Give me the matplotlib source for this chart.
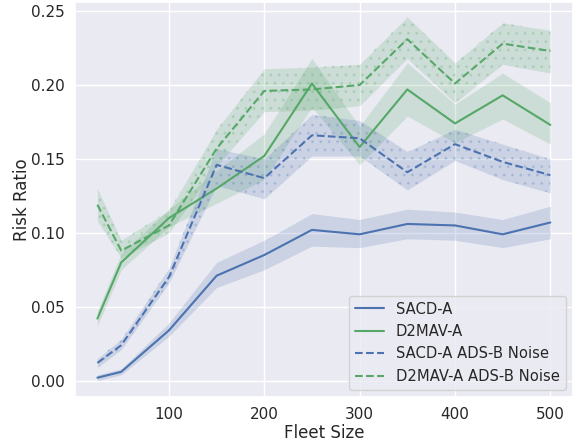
import numpy as np
import matplotlib
matplotlib.use('Agg')
import matplotlib.pyplot as plt
import seaborn as sns

fleet = [25, 50, 100, 150, 200, 250, 300, 350, 400, 450, 500]

sacd = [0.002, 0.006, 0.034, 0.071, 0.085, 0.102, 0.099, 0.106, 0.105, 0.099, 0.107]
sacd_lo = [0.000, 0.004, 0.030, 0.063, 0.075, 0.091, 0.090, 0.096, 0.095, 0.090, 0.096]
sacd_hi = [0.004, 0.008, 0.039, 0.080, 0.095, 0.113, 0.109, 0.116, 0.114, 0.109, 0.118]

d2mav = [0.042, 0.080, 0.110, 0.130, 0.152, 0.201, 0.158, 0.197, 0.174, 0.193, 0.173]
d2mav_lo = [0.037, 0.075, 0.104, 0.120, 0.136, 0.185, 0.146, 0.179, 0.161, 0.177, 0.160]
d2mav_hi = [0.047, 0.086, 0.116, 0.142, 0.167, 0.218, 0.172, 0.215, 0.187, 0.208, 0.188]

sacd_n = [0.012, 0.024, 0.070, 0.146, 0.137, 0.166, 0.164, 0.141, 0.160, 0.148, 0.139]
sacd_n_lo = [0.009, 0.021, 0.066, 0.132, 0.123, 0.152, 0.152, 0.129, 0.149, 0.136, 0.127]
sacd_n_hi = [0.015, 0.028, 0.076, 0.157, 0.150, 0.180, 0.176, 0.155, 0.170, 0.160, 0.150]

d2mav_n = [0.119, 0.088, 0.105, 0.157, 0.196, 0.197, 0.200, 0.231, 0.201, 0.228, 0.223]
d2mav_n_lo = [0.108, 0.083, 0.100, 0.145, 0.182, 0.183, 0.186, 0.218, 0.188, 0.214, 0.208]
d2mav_n_hi = [0.130, 0.095, 0.115, 0.170, 0.211, 0.212, 0.214, 0.246, 0.215, 0.242, 0.237]

sns.set_theme(style='darkgrid')
blue, green = sns.color_palette('deep')[0], sns.color_palette('deep')[2]

fig, ax = plt.subplots(figsize=(5.75, 4.43), dpi=100)

series = [
    ('SACD-A', sacd, sacd_lo, sacd_hi, blue, '-', None),
    ('D2MAV-A', d2mav, d2mav_lo, d2mav_hi, green, '-', None),
    ('SACD-A ADS-B Noise', sacd_n, sacd_n_lo, sacd_n_hi, blue, '--', '..'),
    ('D2MAV-A ADS-B Noise', d2mav_n, d2mav_n_lo, d2mav_n_hi, green, '--', '..'),
]
for name, y, lo, hi, c, ls, hatch in series:
    ax.plot(fleet, y, color=c, linestyle=ls, lw=1.5, label=name)
    ax.fill_between(fleet, lo, hi, color=c, alpha=0.2, linewidth=0)
    if hatch:
        ax.fill_between(fleet, lo, hi, facecolor='none', edgecolor=(*c, 0.18),
                        hatch=hatch, linewidth=0)

ax.set_xlabel('Fleet Size', labelpad=2)
ax.set_ylabel('Risk Ratio', labelpad=0)
ax.tick_params(length=0, pad=7)
ax.set_ylim(-0.011, 0.256)
ax.legend(loc='lower right', fontsize=10.6)
fig.subplots_adjust(left=0.130, right=0.9965, top=0.995, bottom=0.104)
fig.savefig('out.png')
